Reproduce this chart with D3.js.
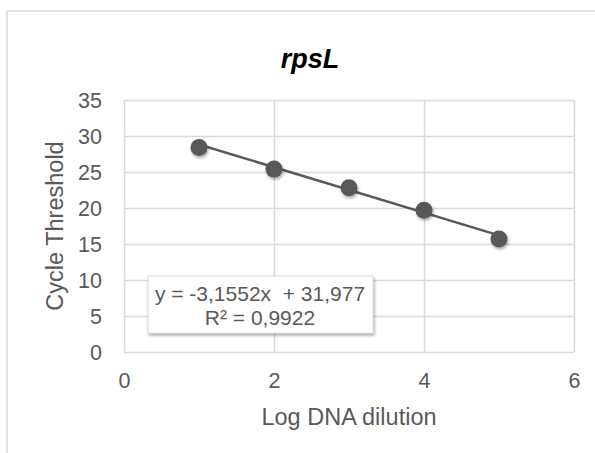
<!DOCTYPE html>
<html>
<head>
  <meta charset="utf-8">
  <script src="https://d3js.org/d3.v7.min.js"></script>
  <style>
    body { margin: 0; background: #fff; }
    text { font-family: "Liberation Sans", Arial, sans-serif; fill: #595959; }
    .grid line { stroke: #d9d9d9; stroke-width: 1.5px; }
    .grid .domain { stroke: none; }
    .axis .domain, .axis line { stroke: none; }
  </style>
</head>
<body>
  <svg id="chart" width="595" height="453"></svg>
  <script>
    // data
    const dilution = [1, 2, 3, 4, 5];
    const cycleThreshold = [28.4, 25.4, 22.8, 19.7, 15.7];
    const fitSlope = -3.1552;
    const fitIntercept = 31.977;
    const fitR2 = "0,9922";
    const xTicks = [0, 2, 4, 6];
    const yTicks = [0, 5, 10, 15, 20, 25, 30, 35];

    const svg = d3.select("#chart");
    const width = +svg.attr("width");
    const height = +svg.attr("height");
    const margin = { top: 100, right: 21, bottom: 101, left: 124 };
    const chartWidth = width - margin.left - margin.right;
    const chartHeight = height - margin.top - margin.bottom;

    // shadows
    const defs = svg.append("defs");
    const shadow = defs.append("filter").attr("id", "shadow")
      .attr("x", "-50%").attr("y", "-50%").attr("width", "200%").attr("height", "200%");
    shadow.append("feDropShadow").attr("dx", 1).attr("dy", 2).attr("stdDeviation", 1.8)
      .attr("flood-color", "#000").attr("flood-opacity", 0.35);

    // outer chart border
    svg.append("rect")
      .attr("x", 7).attr("y", 11).attr("width", width).attr("height", height)
      .attr("fill", "none").attr("stroke", "#d9d9d9").attr("stroke-width", 1.5);

    const xScale = d3.scaleLinear().domain([0, 6]).range([0, chartWidth]);
    const yScale = d3.scaleLinear().domain([0, 35]).range([chartHeight, 0]);

    const chartArea = svg.append("g")
      .attr("transform", `translate(${margin.left},${margin.top})`);

    // gridlines
    chartArea.append("g").attr("class", "grid")
      .call(d3.axisLeft(yScale).tickValues(yTicks).tickSize(-chartWidth).tickFormat(""));
    chartArea.append("g").attr("class", "grid")
      .attr("transform", `translate(0,${chartHeight})`)
      .call(d3.axisBottom(xScale).tickValues(xTicks).tickSize(-chartHeight).tickFormat(""));

    // axis labels
    const leftAxis = chartArea.append("g").attr("class", "axis")
      .attr("transform", "translate(-22,0)")
      .call(d3.axisLeft(yScale).tickValues(yTicks).tickFormat(d3.format("d")).tickSize(0).tickPadding(0));
    leftAxis.selectAll("text").style("font-size", "21.5px").attr("dy", "0.35em");

    const bottomAxis = chartArea.append("g").attr("class", "axis")
      .attr("transform", `translate(0,${chartHeight + 36})`)
      .call(d3.axisBottom(xScale).tickValues(xTicks).tickFormat(d3.format("d")).tickSize(0).tickPadding(0));
    bottomAxis.selectAll("text").style("font-size", "21.5px").attr("dy", 0);

    // trendline
    const fit = x => fitSlope * x + fitIntercept;
    const xFirst = d3.min(dilution), xLast = d3.max(dilution);
    chartArea.append("line")
      .attr("x1", xScale(xFirst)).attr("y1", yScale(fit(xFirst)))
      .attr("x2", xScale(xLast)).attr("y2", yScale(fit(xLast)))
      .attr("stroke", "#595959").attr("stroke-width", 2.5);

    // points
    chartArea.selectAll("circle.point").data(dilution)
      .join("circle")
      .attr("class", "point")
      .attr("cx", d => xScale(d))
      .attr("cy", (d, i) => yScale(cycleThreshold[i]))
      .attr("r", 8.5)
      .attr("fill", "#595959")
      .attr("filter", "url(#shadow)");

    // equation box
    const box = svg.append("g").attr("transform", "translate(148,276)");
    box.append("rect")
      .attr("width", 225).attr("height", 57)
      .attr("fill", "#fff").attr("stroke", "#d9d9d9").attr("stroke-width", 1)
      .attr("filter", "url(#shadow)");
    const fmt = v => String(v).replace(".", ",");
    box.append("text")
      .attr("x", 112).attr("y", 25).attr("text-anchor", "middle")
      .style("font-size", "21px")
      .attr("xml:space", "preserve")
      .text(`y = ${fmt(fitSlope)}x  + ${fmt(fitIntercept)}`);
    box.append("text")
      .attr("x", 112).attr("y", 49).attr("text-anchor", "middle")
      .style("font-size", "21px")
      .text(`R² = ${fitR2}`);

    // title
    svg.append("text")
      .attr("x", 310).attr("y", 68).attr("text-anchor", "middle")
      .style("font-size", "27px").style("font-weight", "bold").style("font-style", "italic")
      .style("fill", "#000")
      .text("rpsL");

    // axis titles
    svg.append("text")
      .attr("x", margin.left + chartWidth / 2).attr("y", 425).attr("text-anchor", "middle")
      .style("font-size", "23.5px")
      .text("Log DNA dilution");
    svg.append("text")
      .attr("transform", `translate(63,${margin.top + chartHeight / 2}) rotate(-90)`)
      .attr("text-anchor", "middle")
      .style("font-size", "23.5px")
      .text("Cycle Threshold");
  </script>
</body>
</html>
